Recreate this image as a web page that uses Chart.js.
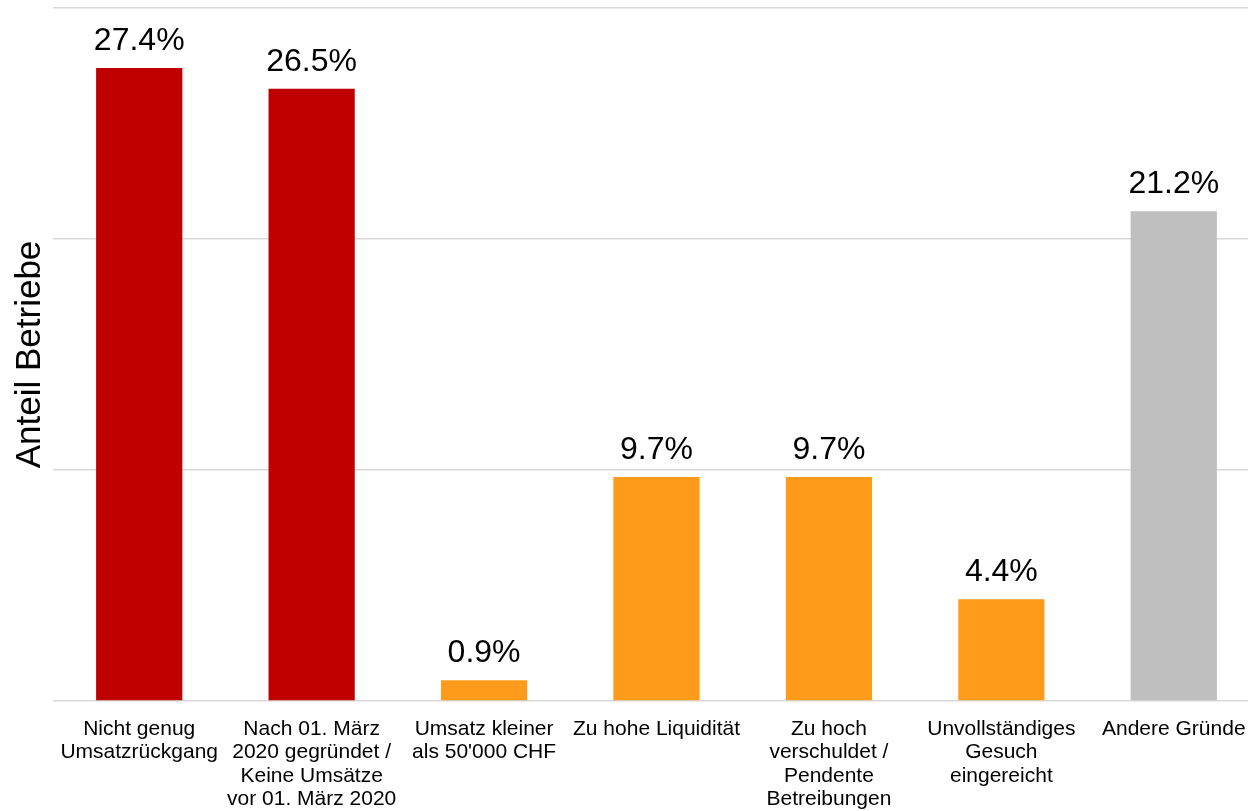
<!DOCTYPE html>
<html>
<head>
<meta charset="utf-8">
<script src="https://cdn.jsdelivr.net/npm/chart.js@4"></script>
<style>
  html, body { margin: 0; padding: 0; overflow: hidden; background: #fff; }
  #wrap { width: 1260px; height: 811px; }
</style>
</head>
<body>
<div id="wrap"><canvas id="chart"></canvas></div>
<script>
const categories = [
    ['Nicht genug', 'Umsatzrückgang'],
    ['Nach 01. März', '2020 gegründet /', 'Keine Umsätze', 'vor 01. März 2020'],
    ['Umsatz kleiner', 'als 50\'000 CHF'],
    ['Zu hohe Liquidität'],
    ['Zu hoch', 'verschuldet /', 'Pendente', 'Betreibungen'],
    ['Unvollständiges', 'Gesuch', 'eingereicht'],
    ['Andere Gründe']
];
const shares = [27.4, 26.5, 0.9, 9.7, 9.7, 4.4, 21.2];
const barColors = ['#c00000', '#c00000', '#ff9b1a', '#ff9b1a', '#ff9b1a', '#ff9b1a', '#bfbfbf'];

const font = 'Liberation Sans, Arial, Helvetica, sans-serif';

const valueLabels = {
    id: 'valueLabels',
    afterDatasetsDraw(chart) {
        const ctx = chart.ctx;
        const meta = chart.getDatasetMeta(0);
        ctx.save();
        ctx.font = '32px ' + font;
        ctx.fillStyle = '#000';
        ctx.textAlign = 'center';
        ctx.textBaseline = 'alphabetic';
        meta.data.forEach((bar, i) => {
            ctx.fillText(shares[i].toFixed(1) + '%', bar.x, bar.y - 18);
        });
        ctx.restore();
    }
};

new Chart(document.getElementById('chart'), {
    type: 'bar',
    data: {
        labels: categories,
        datasets: [{
            data: shares,
            backgroundColor: barColors,
            barPercentage: 0.5,
            categoryPercentage: 1
        }]
    },
    options: {
        responsive: true,
        maintainAspectRatio: false,
        animation: false,
        layout: { padding: { top: 8, right: 0, left: 0, bottom: 0 } },
        plugins: {
            legend: { display: false },
            tooltip: { enabled: false }
        },
        scales: {
            x: {
                grid: { display: false },
                border: { display: false },
                ticks: {
                    color: '#000',
                    font: { family: font, size: 21, lineHeight: 1.1 },
                    maxRotation: 0,
                    autoSkip: false,
                    padding: 9
                },
                afterFit(scale) { scale.height = 110; }
            },
            y: {
                min: 0,
                max: 30,
                ticks: { display: false, stepSize: 10 },
                border: { display: false },
                grid: { color: '#d9d9d9', lineWidth: 1.5, drawTicks: false },
                title: {
                    display: true,
                    text: 'Anteil Betriebe',
                    color: '#000',
                    font: { family: font, size: 35 },
                    padding: { top: 9, bottom: 0 }
                },
                afterFit(scale) { scale.width = 53; }
            }
        }
    },
    plugins: [valueLabels]
});
</script>
</body>
</html>
